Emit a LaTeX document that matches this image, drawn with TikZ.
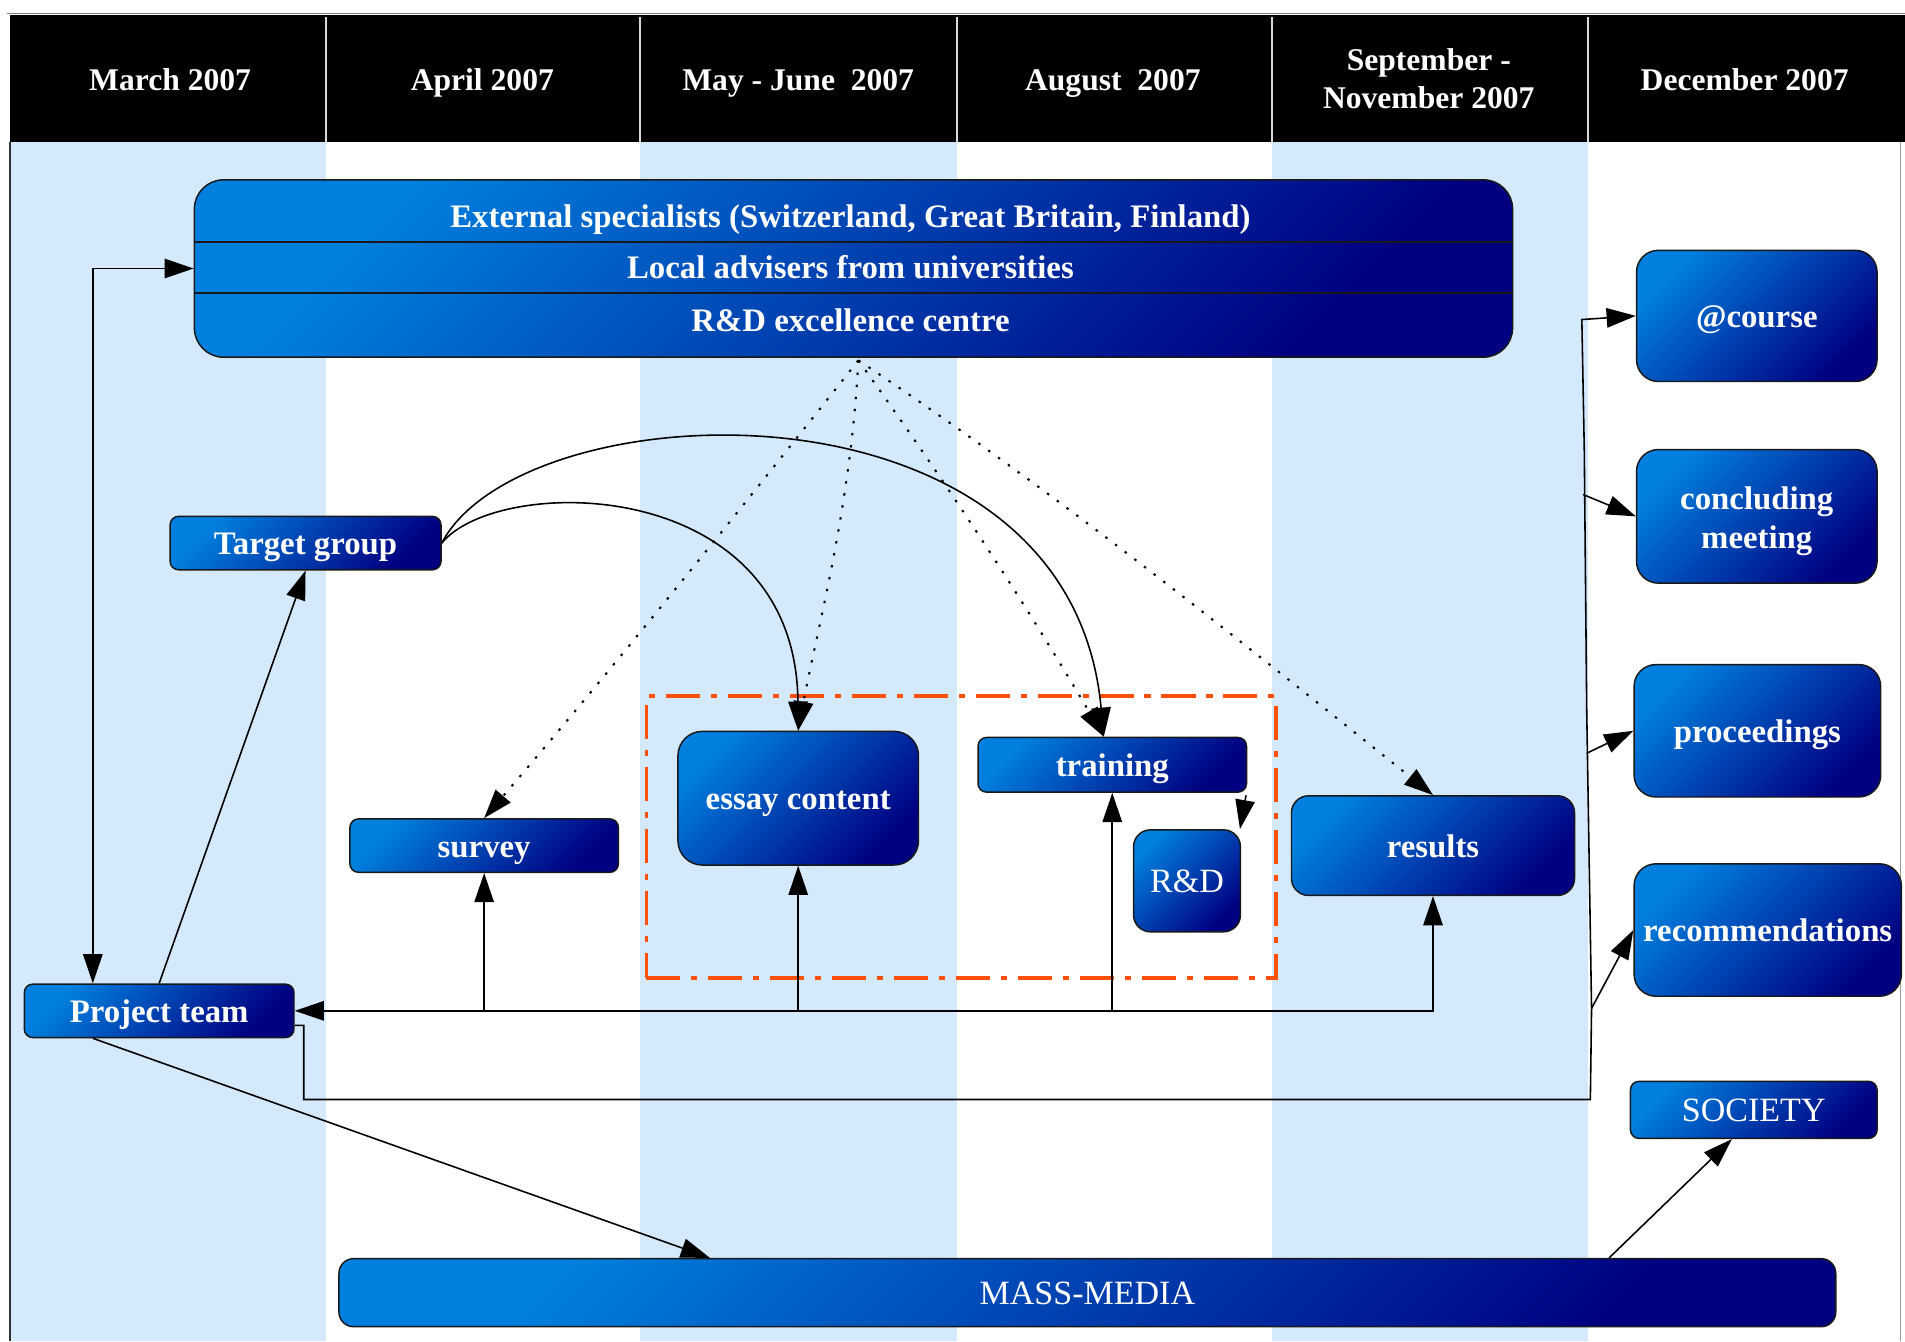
\documentclass[tikz,border=0pt]{standalone}
\usepackage{fontspec}
\setmainfont{Liberation Serif}
\usetikzlibrary{arrows.meta,calc}
\definecolor{stripe}{RGB}{212,233,252}
\definecolor{bl}{RGB}{0,128,222}
\definecolor{bd}{RGB}{0,0,128}
\definecolor{dashorange}{RGB}{255,80,10}
\begin{document}
\begin{tikzpicture}[x=1pt,y=-1pt,
  box/.style={draw=black!90, line width=1.2pt, top color=bl, bottom color=bd, shading angle=45, text=white, inner sep=0pt, align=center},
  bf/.style={font=\fontsize{27}{32}\selectfont\bfseries},
  rmf/.style={font=\fontsize{28}{32}\selectfont},
  sl/.style={text height=22pt, text depth=3pt},
  hdr/.style={text=white, font=\fontsize{26}{31}\selectfont\bfseries, align=center},
  conn/.style={line width=1.3pt, draw=black},
  tipe/.style={-{Triangle[length=24pt,width=16pt]}},
  tipb/.style={{Triangle[length=24pt,width=16pt]}-{Triangle[length=24pt,width=16pt]}},
  dotl/.style={line width=1.7pt, dash pattern=on 2pt off 8pt},
  grp/.style={draw=dashorange, line width=3pt, dash pattern=on 28pt off 9pt on 5pt off 9pt}
]
\useasboundingbox (0,0) rectangle (1568,1104);
\fill[white] (0,0) rectangle (1568,1104);
% stripes
\fill[stripe] (8,117) rectangle (268,1104);
\fill[stripe] (527,117) rectangle (788,1104);
\fill[stripe] (1047,117) rectangle (1307,1104);
% header
\fill[black] (8,12) rectangle (1568,117);
\draw[black!50, line width=1pt] (6,11) -- (1568,11);
\draw[black!80, line width=1.3pt] (8,117) -- (8,1104);
\draw[black!40, line width=1pt] (1564,117) -- (1564,1104);
\foreach \xx in {268,527,788,1047,1307}
  \draw[white!85!black, line width=1.5pt] (\xx,14) -- (\xx,117);
\node[hdr,sl] (h1) at (140,65) {March 2007};
\node[hdr,sl] (h2) at (397,65) {April 2007};
\node[hdr,sl] (h3) at (657,65) {May - June\ \ 2007};
\node[hdr,sl] (h4) at (916,65) {August\ \ 2007};
\node[hdr] (h5) at (1176,65) {September -\\November 2007};
\node[hdr,sl] (h6) at (1436,65) {December 2007};

% group rectangle
\node[grp, minimum width=518pt, minimum height=232pt, inner sep=0pt] (grpbox) at (791,689) {};

% top box
\node[box, rounded corners=24pt, minimum width=1085pt, minimum height=146pt] (ext) at (702.5,221) {};
\draw[black!90, line width=1.2pt] (ext.west |- 0,199) -- (ext.east |- 0,199);
\draw[black!90, line width=1.2pt] (ext.west |- 0,241) -- (ext.east |- 0,241);
\node[bf,sl,text=white] (e1) at (700,178) {External specialists (Switzerland, Great Britain, Finland)};
\node[bf,sl,text=white] (e2) at (700,220) {Local advisers from universities};
\node[bf,sl,text=white] (e3) at (700,263) {R\&D excellence centre};

% boxes
\node[box,bf,sl,rounded corners=7pt,minimum width=223pt,minimum height=44pt] (tg) at (251.5,447) {Target group};
\node[box,bf,sl,rounded corners=7pt,minimum width=222pt,minimum height=44pt] (pt) at (131,832) {Project team};
\node[box,bf,sl,rounded corners=7pt,minimum width=221pt,minimum height=44pt] (survey) at (398.5,696) {survey};
\node[box,bf,sl,rounded corners=20pt,minimum width=198pt,minimum height=110pt] (essay) at (657,657) {essay content};
\node[box,bf,sl,rounded corners=7pt,minimum width=221pt,minimum height=45pt] (training) at (915.5,629.5) {training};
\node[box,rmf,sl,rounded corners=14pt,minimum width=88pt,minimum height=84pt] (rd) at (977,725) {R\&D};
\node[box,bf,sl,rounded corners=14pt,minimum width=233pt,minimum height=82pt] (results) at (1179.5,696) {results};
\node[box,bf,sl,rounded corners=18pt,minimum width=198pt,minimum height=108pt] (course) at (1446,260) {@course};
\node[box,bf,rounded corners=18pt,minimum width=198pt,minimum height=110pt] (cm) at (1446,425) {};
\node[bf,text=white,align=center] (cmtext) at (1446,429) {concluding\\meeting};
\node[box,bf,sl,rounded corners=18pt,minimum width=203pt,minimum height=109pt] (proc) at (1446.5,601.5) {proceedings};
\node[box,bf,sl,rounded corners=18pt,minimum width=220pt,minimum height=109pt] (rec) at (1455,765.5) {recommendations};
\node[box,rmf,sl,rounded corners=7pt,minimum width=203pt,minimum height=47pt] (soc) at (1443.5,913.5) {SOCIETY};
\node[box,rmf,sl,rounded corners=12pt,minimum width=1232pt,minimum height=56pt] (mm) at (895,1064) {MASS-MEDIA};

% connectors
\draw[conn,tipb] ($(pt.north west)+(57,0)$) |- (ext.west);
\draw[conn,tipe] (pt.north) -- (tg.south);
\draw[conn,tipe] (tg.east) .. controls (410,390) and (655,390) .. (essay.north);
\draw[conn,tipe] (tg.east) .. controls (430,320) and (880,300) .. ([xshift=-7pt]training.north);

\coordinate (dsrc) at ($(ext.south)+(4,2)$);
\draw[dotl,tipe] (dsrc) .. controls (612,416) and (508,546) .. (survey.north);
\draw[dotl,tipe] (dsrc) .. controls (700,420) and (672,520) .. (essay.north);
\draw[dotl,tipe] (dsrc) .. controls (775,392) and (840,490) .. ([xshift=-7pt]training.north);
\draw[dotl,tipe] (dsrc) .. controls (870,405) and (1030,535) .. (results.north);

% bus
\draw[conn,tipb] (pt.east) -- (pt.east -| results.south) -- (results.south);
\draw[conn,tipe] (pt.east -| survey.south) -- (survey.south);
\draw[conn,tipe] (pt.east -| essay.south) -- (essay.south);
\draw[conn,tipe] (pt.east -| training.south) -- (training.south);
\draw[conn,tipe] ([xshift=-1pt,yshift=-2pt]training.south east) -- ([xshift=-1pt]rd.north east);

% right tree
\coordinate (t1) at (250,905);
\coordinate (t2) at (1309,905);
\coordinate (b1) at (1303,407);
\coordinate (b2) at (1306,620);
\coordinate (b3) at (1310,830);
\draw[conn,tipe] ([yshift=-12pt]pt.east) -| (t1) -- (t2) -- (b3) -- (1306,584) -- (1304,370) -- (1302,263) -- (course.west);
\draw[conn,tipe] (b1) -- (cm.west);
\draw[conn,tipe] (b2) -- (proc.west);
\draw[conn,tipe] (b3) -- (rec.west);

% media
\draw[conn,tipe] ($(pt.south west)+(57,0)$) -- ($(mm.north west)+(306,0)$);
\draw[conn,tipe] ($(mm.north west)+(1046,0)$) -- ($(soc.south)+(-18,0)$);
\end{tikzpicture}
\end{document}
